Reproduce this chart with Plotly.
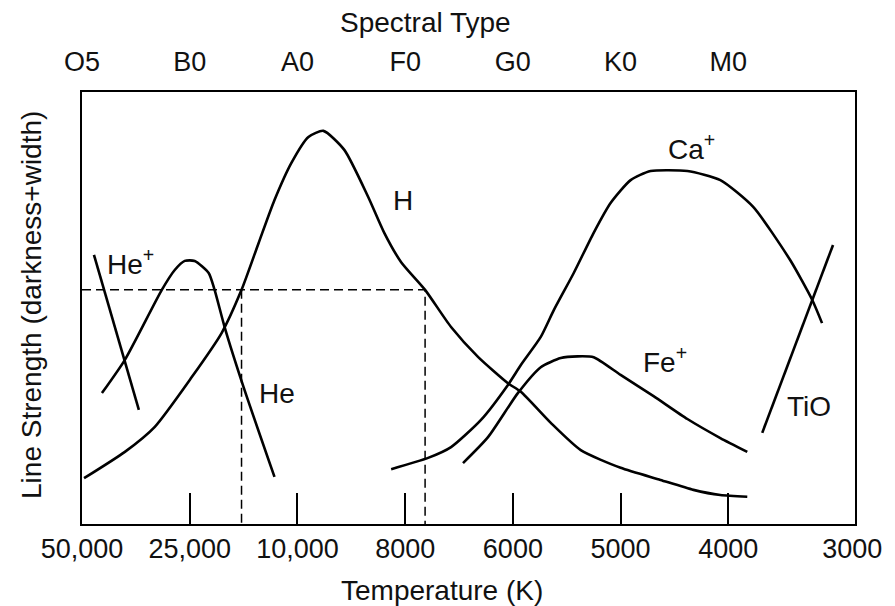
import plotly.graph_objects as go

# positions along the spectral sequence (one unit per spectral class)
temp_pos = [0, 1, 2, 3, 4, 5, 6, 7.15]
temp_labels = ["50,000", "25,000", "10,000", "8000", "6000", "5000", "4000", "3000"]
spec_pos = [0, 1, 2, 3, 4, 5, 6]
spec_labels = ["O5", "B0", "A0", "F0", "G0", "K0", "M0"]

# line strength curves (arbitrary strength units 0-100)
h_x = [0.019, 0.398, 0.676, 1.019, 1.296, 1.481, 1.639, 1.787, 1.944, 2.102, 2.241, 2.435,
       2.657, 2.806, 2.963, 3.185, 3.426, 3.676, 3.954, 4.074, 4.352, 4.630, 5.0, 5.370,
       5.676, 5.926, 6.176]
h_y = [10.6, 16.7, 22.5, 34.0, 44.2, 54.2, 65.0, 75.0, 83.6, 89.6, 91.0, 86.6,
       75.7, 67.4, 60.6, 54.2, 45.6, 38.7, 32.6, 30.6, 23.4, 17.1, 13.0, 10.2,
       7.9, 6.7, 6.3]

ca_x = [2.870, 3.213, 3.426, 3.704, 3.954, 4.074, 4.259, 4.380, 4.565, 4.750, 4.907,
        5.093, 5.278, 5.620, 5.926, 6.231, 6.574, 6.778, 6.870]
ca_y = [12.7, 15.3, 17.8, 24.1, 32.2, 36.8, 43.3, 49.5, 58.1, 67.4, 74.3,
        79.6, 81.7, 81.7, 79.6, 73.4, 61.1, 51.9, 46.5]

fe_x = [3.537, 3.769, 4.046, 4.259, 4.444, 4.600, 4.750, 5.0, 5.306, 5.620, 5.926, 6.176]
fe_y = [14.1, 20.1, 30.3, 36.3, 38.4, 38.8, 38.6, 34.5, 29.6, 24.3, 19.9, 16.7]

he_x = [0.185, 0.398, 0.741, 0.861, 0.954, 1.046, 1.176, 1.231, 1.324, 1.500, 1.787]
he_y = [30.3, 38.0, 54.2, 58.8, 60.9, 60.9, 58.1, 54.2, 45.6, 31.7, 10.9]

hep_x = [0.111, 0.528]
hep_y = [62.3, 26.4]

tio_x = [6.315, 6.972]
tio_y = [21.1, 64.6]

# dashed guide: the H strength level and where it meets the H curve
guide_level = 54.2
guide_x = [1.481, 3.185]

FONT = "Liberation Sans, Arial, sans-serif"
INK = "#111111"

fig = go.Figure()

def curve(x, y):
    fig.add_trace(go.Scatter(x=x, y=y, mode="lines", showlegend=False,
                             line=dict(color="black", width=2.6, shape="spline", smoothing=0.6),
                             hoverinfo="skip"))

for xs, ys in [(h_x, h_y), (ca_x, ca_y), (fe_x, fe_y), (he_x, he_y), (hep_x, hep_y), (tio_x, tio_y)]:
    curve(xs, ys)

x_left = 0.0
fig.add_trace(go.Scatter(
    x=[x_left, guide_x[1], guide_x[1], None, guide_x[0], guide_x[0]],
    y=[guide_level, guide_level, 0, None, guide_level, 0],
    mode="lines", xaxis="x2", showlegend=False, hoverinfo="skip",
    line=dict(color="black", width=1.5, dash="9px,5px")))

labels = [
    ("He<sup>+</sup>", 0.213, 60.6),
    ("He", 1.62, 30.3),
    ("H", 2.870, 74.8),
    ("Ca<sup>+</sup>", 5.417, 87.3),
    ("Fe<sup>+</sup>", 5.185, 38.0),
    ("TiO", 6.528, 27.1),
]
for txt, lx, ly in labels:
    fig.add_annotation(x=lx, y=ly, text=txt, showarrow=False, xanchor="left", yanchor="middle",
                       font=dict(family=FONT, size=28, color=INK))

fig.add_annotation(text="Spectral Type", xref="paper", yref="paper", x=0.445, y=1.162,
                   xanchor="center", yanchor="middle",
                   showarrow=False, font=dict(family=FONT, size=28, color=INK))
fig.add_annotation(text="Temperature (K)", xref="paper", yref="paper", x=0.466, y=-0.153,
                   xanchor="center", yanchor="middle",
                   showarrow=False, font=dict(family=FONT, size=28, color=INK))
fig.add_annotation(text="Line Strength (darkness+width)", xref="paper", yref="paper",
                   x=-0.0647, y=0.507, textangle=-90, showarrow=False,
                   xanchor="center", yanchor="middle",
                   font=dict(family=FONT, size=28, color=INK))

x_range = [x_left, 7.176]
# page body adds an 8px offset, so margins are shifted to keep the frame in place
fig.update_layout(
    width=895, height=606,
    margin=dict(l=74, r=48, t=84, b=90, autoexpand=False),
    paper_bgcolor="white", plot_bgcolor="white",
    font=dict(family=FONT, size=27, color=INK),
    xaxis=dict(range=x_range, tickmode="array", tickvals=temp_pos, ticktext=temp_labels,
               ticks="", showgrid=False, zeroline=False, showline=True, mirror=True,
               linecolor="black", linewidth=2, automargin=False,
               minor=dict(tickmode="array", tickvals=spec_pos[1:], ticks="inside",
                          ticklen=31, tickwidth=2, tickcolor="black", showgrid=False)),
    xaxis2=dict(overlaying="x", side="top", matches="x", tickmode="array",
                tickvals=spec_pos, ticktext=spec_labels, ticks="", showgrid=False,
                zeroline=False, showline=False, automargin=False, ticklabelstandoff=15),
    yaxis=dict(range=[0, 100], showticklabels=False, ticks="", showgrid=False,
               zeroline=False, showline=True, mirror=True, linecolor="black", linewidth=2,
               automargin=False),
)

fig.write_html("out.html")
